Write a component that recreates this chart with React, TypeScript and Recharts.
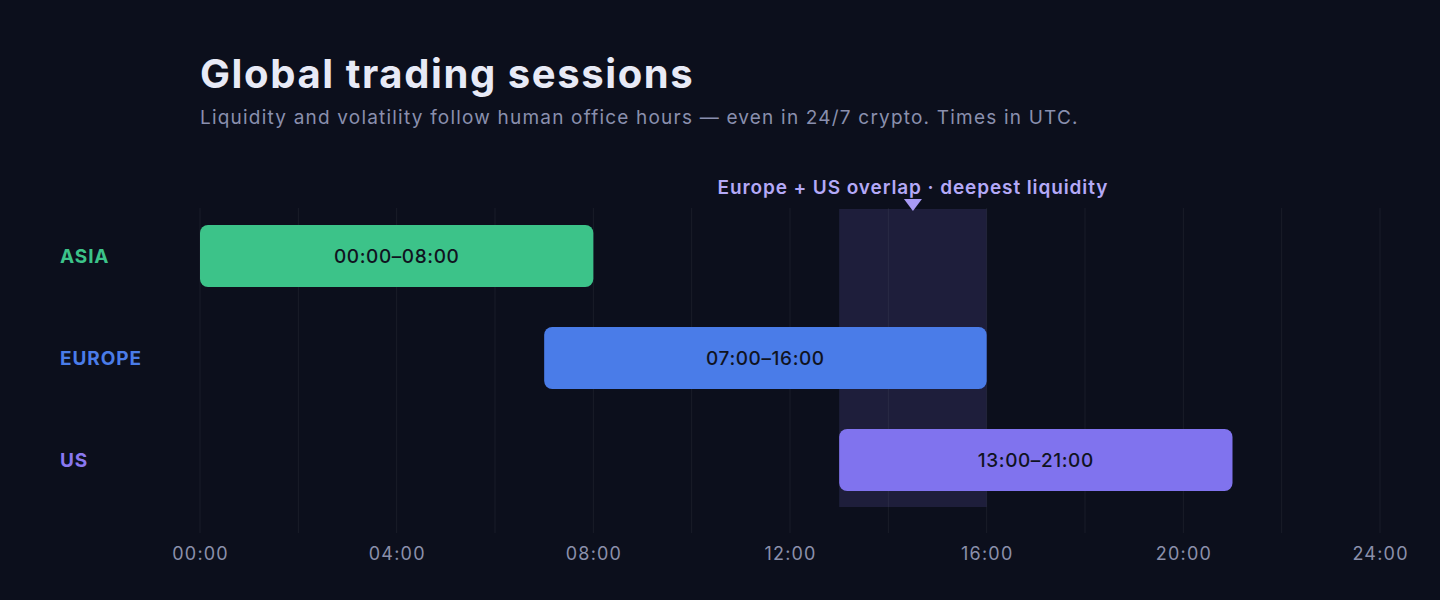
import React from 'react';
import { BarChart, Bar, XAxis, YAxis, CartesianGrid, ReferenceArea, Cell, LabelList } from 'recharts';

const sessions = ['ASIA', 'EUROPE', 'US'];
const startHours = [0, 7, 13];
const endHours = [8, 16, 21];
const hourTicks = [0, 2, 4, 6, 8, 10, 12, 14, 16, 18, 20, 22, 24];
const overlapStart = 13;
const overlapEnd = 16;
const overlapText = 'Europe + US overlap · deepest liquidity';
const titleText = 'Global trading sessions';
const subtitleText = 'Liquidity and volatility follow human office hours — even in 24/7 crypto. Times in UTC.';

const COLORS = ['#3cc389', '#4a7ce8', '#8073ee'];
const LABEL_COLORS = ['#3cc389', '#4a7ce8', '#8a78f0'];
const FONT = 'Inter, "Noto Sans", sans-serif';

const pad = (h: number) => `${String(h).padStart(2, '0')}:00`;

const data = sessions.map((name, i) => ({
  name,
  range: [startHours[i], endHours[i]],
  label: `${pad(startHours[i])}–${pad(endHours[i])}`,
}));

const XTick = (props: any) => {
  const { x, y, payload } = props;
  if (payload.value % 4 !== 0) return null;
  return (
    <text x={x + 0.6} y={y + 12} textAnchor="middle" dominantBaseline="central" fill="#8b90ab" fontSize={18} letterSpacing={1.2} fontFamily={FONT}>
      {pad(payload.value)}
    </text>
  );
};

const YTick = (props: any) => {
  const { y, payload, index } = props;
  return (
    <text x={60} y={y} textAnchor="start" dominantBaseline="central" fill={LABEL_COLORS[index]} fontSize={19} fontWeight={700} letterSpacing={0.9} fontFamily={FONT}>
      {payload.value}
    </text>
  );
};

const OverlapShape = (props: any) => {
  const { x, y, width, height } = props;
  return <rect x={x} y={y + 4} width={width} height={height - 8} fill="#8b7cf6" fillOpacity={0.14} />;
};

const OverlapLabel = (props: any) => {
  const vb = props.viewBox || {};
  const cx = vb.x + vb.width / 2;
  const top = vb.y;
  return (
    <g>
      <text x={cx} y={top - 18} textAnchor="middle" dominantBaseline="central" fill="#b4a9f7" fontSize={19} fontWeight={600} letterSpacing={0.9} fontFamily={FONT}>
        {overlapText}
      </text>
      <polygon points={`${cx - 9},${top - 6} ${cx + 9},${top - 6} ${cx},${top + 6}`} fill="#a99bf5" />
    </g>
  );
};

export default function App() {
  return (
    <div style={{ position: 'fixed', inset: 0, background: '#0c0f1c' }}>
      <div style={{ position: 'relative', width: 1440, height: 600 }}>
        <BarChart
          width={1440}
          height={600}
          data={data}
          layout="vertical"
          margin={{ top: 208, right: 60, bottom: 37, left: 60 }}
        >
          <CartesianGrid horizontal={false} stroke="#ffffff" strokeOpacity={0.06} />
          <XAxis
            type="number"
            domain={[0, 24]}
            ticks={hourTicks}
            interval={0}
            axisLine={false}
            tickLine={false}
            height={30}
            tick={<XTick />}
          />
          <YAxis
            type="category"
            dataKey="name"
            width={140}
            axisLine={false}
            tickLine={false}
            padding={{ top: -3, bottom: 22 }}
            tick={<YTick />}
          />
          <ReferenceArea
            x1={overlapStart}
            x2={overlapEnd}
            y1={sessions[0]}
            y2={sessions[sessions.length - 1]}
            fill="#8b7cf6"
            fillOpacity={0.14}
            stroke="none"
            shape={<OverlapShape />}
            label={<OverlapLabel />}
          />
          <Bar dataKey="range" barSize={62} radius={8} isAnimationActive={false}>
            {data.map((d, i) => (
              <Cell key={d.name} fill={COLORS[i]} />
            ))}
            <LabelList dataKey="label" position="center" fill="#10131f" fontSize={19} fontWeight={500} letterSpacing={0.6} fontFamily={FONT} />
          </Bar>
        </BarChart>
        <svg width={1440} height={600} style={{ position: 'absolute', left: 0, top: 0, pointerEvents: 'none' }}>
          <text x={200} y={88} fill="#e8eaf6" fontSize={40} fontWeight={700} letterSpacing={1.6} fontFamily={FONT}>
            {titleText}
          </text>
          <text x={200} y={124} fill="#8a8fae" fontSize={19} letterSpacing={1.2} fontFamily={FONT}>
            {subtitleText}
          </text>
        </svg>
      </div>
    </div>
  );
}
